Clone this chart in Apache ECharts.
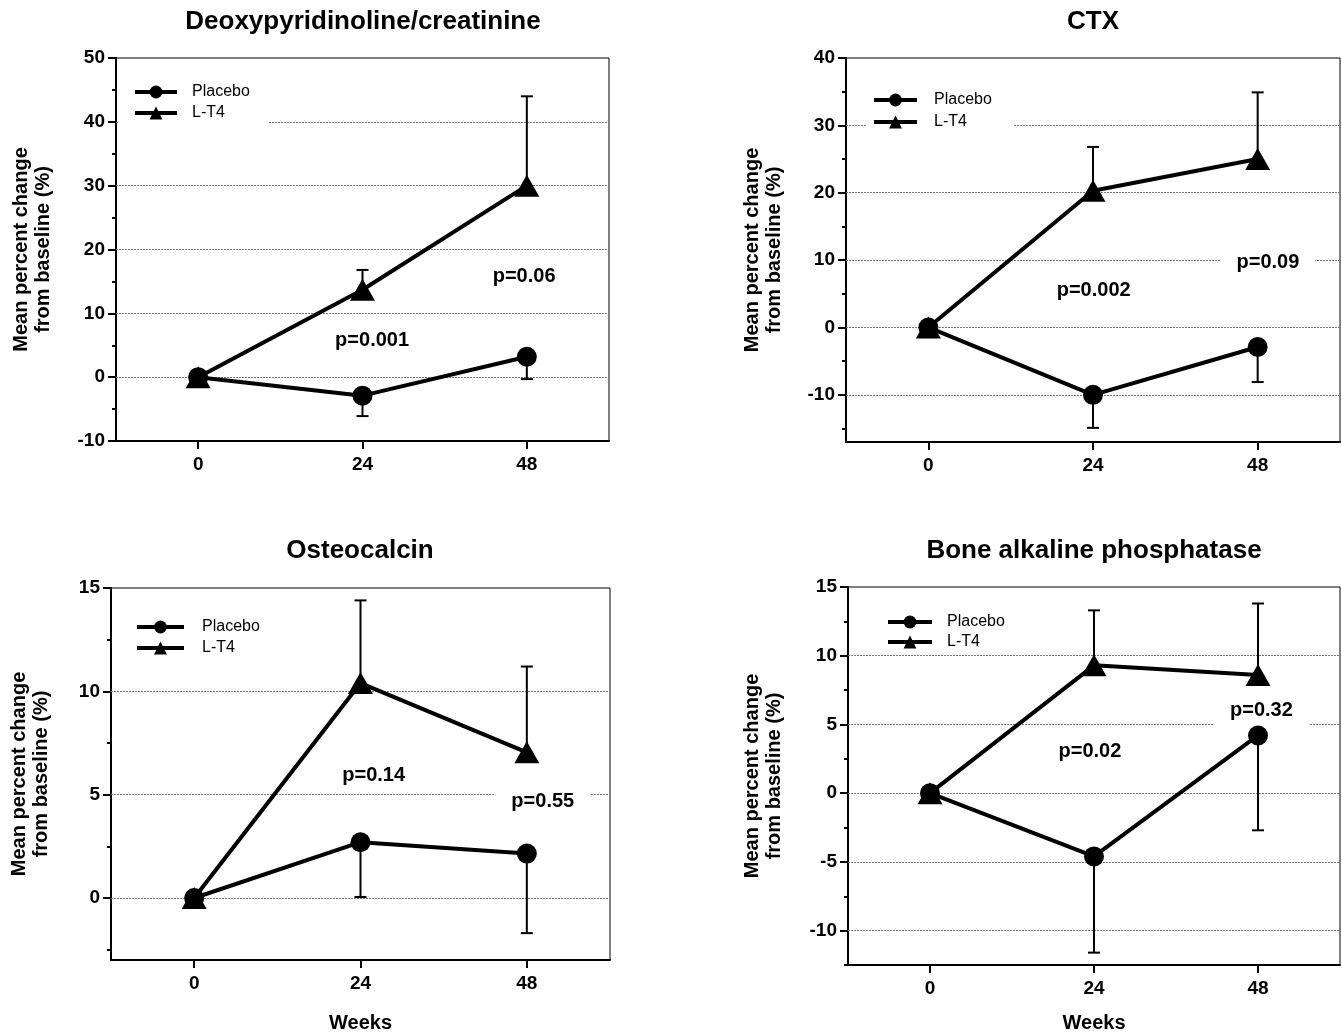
<!DOCTYPE html>
<html><head><meta charset="utf-8">
<script src="https://cdn.jsdelivr.net/npm/echarts@6/dist/echarts.min.js"></script>
<style>html,body{margin:0;padding:0;background:#fff}#c{width:1342px;height:1036px}</style>
</head><body><div id="c"></div><script>
// ---------- data ----------
const weeks = [0, 24, 48];
const seriesNames = ['Placebo', 'L-T4'];
const yAxisTitle = 'Mean percent change\nfrom baseline (%)';
const xAxisTitle = 'Weeks';

// Panel 1: Deoxypyridinoline/creatinine
const dpdTitle = 'Deoxypyridinoline/creatinine';
const dpdPlacebo = [0, -2.9, 3.2];
const dpdPlaceboErr = [null, -6.1, -0.3];
const dpdLT4 = [0, 13.7, 30.0];
const dpdLT4Err = [null, 16.8, 44.0];
const dpdYTicks = [-10, 0, 10, 20, 30, 40, 50];
const dpdYMinor = [-5, 5, 15, 25, 35, 45];
const dpdYGrid = [0, 10, 20, 30, 40];
const dpdPText = ['p=0.001', 'p=0.06'];
const dpdPWeek = [25.4, 47.6];
const dpdPValue = [5.8, 15.8];

// Panel 2: CTX
const ctxTitle = 'CTX';
const ctxPlacebo = [0, -10.0, -2.9];
const ctxPlaceboErr = [null, -14.9, -8.1];
const ctxLT4 = [0, 20.3, 25.0];
const ctxLT4Err = [null, 26.8, 34.9];
const ctxYTicks = [-10, 0, 10, 20, 30, 40];
const ctxYMinor = [-15, -5, 5, 15, 25, 35];
const ctxYGrid = [-10, 0, 10, 20, 30];
const ctxPText = ['p=0.002', 'p=0.09'];
const ctxPWeek = [24.1, 49.5];
const ctxPValue = [5.5, 9.6];

// Panel 3: Osteocalcin
const ocTitle = 'Osteocalcin';
const ocPlacebo = [0, 2.7, 2.15];
const ocPlaceboErr = [null, 0.05, -1.7];
const ocLT4 = [0, 10.4, 7.05];
const ocLT4Err = [null, 14.4, 11.2];
const ocYTicks = [0, 5, 10, 15];
const ocYMinor = [-2.5, 2.5, 7.5, 12.5];
const ocYGrid = [0, 5, 10];
const ocPText = ['p=0.14', 'p=0.55'];
const ocPWeek = [25.9, 50.3];
const ocPValue = [5.95, 4.65];

// Panel 4: Bone alkaline phosphatase
const bapTitle = 'Bone alkaline phosphatase';
const bapPlacebo = [0, -4.6, 4.2];
const bapPlaceboErr = [null, -11.6, -2.7];
const bapLT4 = [0, 9.3, 8.6];
const bapLT4Err = [null, 13.3, 13.8];
const bapYTicks = [-10, -5, 0, 5, 10, 15];
const bapYMinor = [-12.5, -7.5, -2.5, 2.5, 7.5, 12.5];
const bapYGrid = [-10, -5, 0, 5, 10];
const bapPText = ['p=0.02', 'p=0.32'];
const bapPWeek = [23.4, 48.5];
const bapPValue = [3.0, 6.0];

// ---------- layout ----------
const FONT = "'Liberation Sans', Arial, Helvetica, sans-serif";
const panels = [
  { title: dpdTitle, tx: 363, ty: 22, grid: {left: 116, top: 58, width: 493, height: 383},
    yMin: -10, yMax: 50, yTicks: dpdYTicks, yMinor: dpdYMinor, yGrid: dpdYGrid,
    placebo: dpdPlacebo, placeboErr: dpdPlaceboErr, lt4: dpdLT4, lt4Err: dpdLT4Err,
    pText: dpdPText, pWeek: dpdPWeek, pValue: dpdPValue, nameGap: 62, xName: '', xNameGap: 0,
    legend: {left: 118, top: 79, itemGap: 5, itemWidth: 42, textPad: 10, padding: [5, 18, 4, 15]} },
  { title: ctxTitle, tx: 1093, ty: 22, grid: {left: 846, top: 58, width: 494, height: 384},
    yMin: -17, yMax: 40, yTicks: ctxYTicks, yMinor: ctxYMinor, yGrid: ctxYGrid,
    placebo: ctxPlacebo, placeboErr: ctxPlaceboErr, lt4: ctxLT4, lt4Err: ctxLT4Err,
    pText: ctxPText, pWeek: ctxPWeek, pValue: ctxPValue, nameGap: 61, xName: '', xNameGap: 0,
    legend: {left: 866, top: 87, itemGap: 6, itemWidth: 43, textPad: 12, padding: [5, 22, 4, 6]} },
  { title: ocTitle, tx: 360, ty: 551, grid: {left: 111, top: 588, width: 499, height: 372},
    yMin: -3, yMax: 15, yTicks: ocYTicks, yMinor: ocYMinor, yGrid: ocYGrid,
    placebo: ocPlacebo, placeboErr: ocPlaceboErr, lt4: ocLT4, lt4Err: ocLT4Err,
    pText: ocPText, pWeek: ocPWeek, pValue: ocPValue, nameGap: 59, xName: xAxisTitle, xNameGap: 53,
    legend: {left: 129, top: 614, itemGap: 5, itemWidth: 47, textPad: 13, padding: [5, 10, 4, 6]} },
  { title: bapTitle, tx: 1094, ty: 551, grid: {left: 848, top: 587, width: 492, height: 378},
    yMin: -12.5, yMax: 15, yTicks: bapYTicks, yMinor: bapYMinor, yGrid: bapYGrid,
    placebo: bapPlacebo, placeboErr: bapPlaceboErr, lt4: bapLT4, lt4Err: bapLT4Err,
    pText: bapPText, pWeek: bapPWeek, pValue: bapPValue, nameGap: 63, xName: xAxisTitle, xNameGap: 48,
    legend: {left: 880, top: 609, itemGap: 4, itemWidth: 44, textPad: 10, padding: [5, 10, 3, 6]} }
];

const grids = [], xAxes = [], yAxes = [], series = [], legends = [], graphics = [];

function errRender(params, api) {
  const x = api.value(0), y = api.value(1), e = api.value(2);
  const p0 = api.coord([x, y]), p1 = api.coord([x, e]);
  return { type: 'group', children: [
    { type: 'line', shape: {x1: p0[0], y1: p0[1], x2: p1[0], y2: p1[1]}, style: {stroke: '#000', lineWidth: 2} },
    { type: 'line', shape: {x1: p1[0] - 6, y1: p1[1], x2: p1[0] + 6, y2: p1[1]}, style: {stroke: '#000', lineWidth: 2} }
  ]};
}
function pRender(params, api) {
  const p = api.coord([api.value(0), api.value(1)]);
  return { type: 'text', x: p[0], y: p[1], style: {
    text: api.value(2), font: 'bold 20px ' + FONT, fill: '#000', align: 'center', verticalAlign: 'middle',
    backgroundColor: '#fff', padding: [3, 16, 10, 16] } };
}

panels.forEach((pn, i) => {
  grids.push(Object.assign({show: true, borderColor: '#000', borderWidth: 1, containLabel: false}, pn.grid));
  xAxes.push({
    gridIndex: i, type: 'value', min: -12, max: 60,
    axisLine: {show: true, onZero: false, lineStyle: {color: '#000', width: 2}},
    axisTick: {show: true, customValues: weeks, length: 8, lineStyle: {color: '#000', width: 2}},
    axisLabel: {customValues: weeks, margin: 14, fontSize: 19, fontWeight: 'bold', color: '#000', fontFamily: FONT},
    splitLine: {show: false},
    name: pn.xName, nameLocation: 'middle', nameGap: pn.xNameGap,
    nameTextStyle: {fontSize: 20, fontWeight: 'bold', color: '#000', fontFamily: FONT}
  });
  yAxes.push({
    gridIndex: i, type: 'value', position: 'left', min: pn.yMin, max: pn.yMax,
    axisLine: {show: true, onZero: false, lineStyle: {color: '#000', width: 2}},
    axisTick: {show: true, customValues: pn.yTicks, length: 8, lineStyle: {color: '#000', width: 2}},
    axisLabel: {customValues: pn.yTicks, margin: 11, fontSize: 19, fontWeight: 'bold', color: '#000', fontFamily: FONT},
    splitLine: {show: false},
    name: yAxisTitle, nameLocation: 'middle', nameGap: pn.nameGap, nameRotate: 90,
    nameTextStyle: {fontSize: 20, fontWeight: 'bold', color: '#000', fontFamily: FONT, lineHeight: 22, align: 'center'}
  });
  yAxes.push({
    gridIndex: i, type: 'value', position: 'left', min: pn.yMin, max: pn.yMax,
    axisLine: {show: false, onZero: false},
    axisTick: {show: true, customValues: pn.yMinor, length: 4, lineStyle: {color: '#000', width: 2}},
    axisLabel: {show: false}, splitLine: {show: false}
  });
  const yi = 2 * i;
  // gridlines
  series.push({
    type: 'line', xAxisIndex: i, yAxisIndex: yi, data: [], silent: true, z: 1,
    markLine: {z: 1, symbol: ['none', 'none'], silent: true, label: {show: false},
      lineStyle: {type: [2, 1], color: '#777', width: 1},
      emphasis: {disabled: true}, animation: false,
      data: pn.yGrid.map(v => ({yAxis: v}))}
  });
  // error bars
  const mkErr = (vals, errs) => weeks.map((w, k) => [w, vals[k], errs[k]]).filter(d => d[2] !== null);
  series.push({type: 'custom', xAxisIndex: i, yAxisIndex: yi, z: 2, silent: true,
    renderItem: errRender, data: mkErr(pn.placebo, pn.placeboErr)});
  series.push({type: 'custom', xAxisIndex: i, yAxisIndex: yi, z: 2, silent: true,
    renderItem: errRender, data: mkErr(pn.lt4, pn.lt4Err)});
  // p-value annotations (white boxes mask gridlines)
  series.push({type: 'custom', xAxisIndex: i, yAxisIndex: yi, z: 2, silent: true,
    renderItem: pRender, data: pn.pText.map((t, k) => [pn.pWeek[k], pn.pValue[k], t])});
  // lines
  series.push({name: seriesNames[0], type: 'line', xAxisIndex: i, yAxisIndex: yi, z: 3,
    data: weeks.map((w, k) => [w, pn.placebo[k]]),
    symbol: 'circle', symbolSize: 20, showAllSymbol: true,
    lineStyle: {color: '#000', width: 4}, itemStyle: {color: '#000'}});
  series.push({name: seriesNames[1], type: 'line', xAxisIndex: i, yAxisIndex: yi, z: 3,
    data: weeks.map((w, k) => [w, pn.lt4[k]]),
    symbol: 'triangle', symbolSize: [25, 22], showAllSymbol: true,
    lineStyle: {color: '#000', width: 4}, itemStyle: {color: '#000'}});
  legends.push({
    data: seriesNames, orient: 'vertical', left: pn.legend.left, top: pn.legend.top,
    itemWidth: pn.legend.itemWidth, itemHeight: 16, itemGap: pn.legend.itemGap,
    padding: pn.legend.padding, backgroundColor: '#fff', selectedMode: false, z: 5,
    lineStyle: {width: 4, color: '#000'}, itemStyle: {color: '#000'},
    textStyle: {fontSize: 16, color: '#000', fontFamily: FONT, padding: [0, 0, 0, pn.legend.textPad]}
  });
  graphics.push({type: 'text', x: pn.tx, y: pn.ty, style: {text: pn.title, font: 'bold 26px ' + FONT,
    fill: '#000', align: 'center', verticalAlign: 'middle'}});
});

const chart = echarts.init(document.getElementById('c'), null, {renderer: 'canvas'});
chart.setOption({
  animation: false, backgroundColor: '#fff',
  grid: grids, xAxis: xAxes, yAxis: yAxes, series: series, legend: legends, graphic: graphics
});
</script></body></html>
